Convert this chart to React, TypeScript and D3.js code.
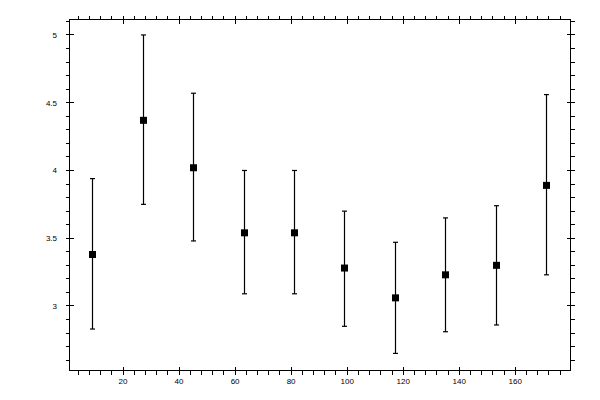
import { useEffect } from "react";
import * as d3 from "d3";

const width = 600;
const height = 400;

// 外框位置
const left = 69.5;
const right = 570.5;
const top = 19.5;
const bottom = 370.5;

// 資料
const xValues = [9, 27, 45, 63, 81, 99, 117, 135, 153, 171];
const means = [3.38, 4.37, 4.02, 3.54, 3.54, 3.28, 3.06, 3.23, 3.3, 3.89];
const upper = [3.94, 5.0, 4.57, 4.0, 4.0, 3.7, 3.47, 3.65, 3.74, 4.56];
const lower = [2.83, 3.75, 3.48, 3.09, 3.09, 2.85, 2.65, 2.81, 2.86, 3.23];

const xMajorTicks = [20, 40, 60, 80, 100, 120, 140, 160];
const yMajorTicks = [3, 3.5, 4, 4.5, 5];
const yTickLabels = ["3", "3.5", "4", "4.5", "5"];

const x = d3.scaleLinear().domain([0.9, 179.7]).range([left, right]);
const y = d3.scaleLinear().domain([2.524, 5.114]).range([bottom, top]);

// 次刻度
const xMinorTicks = d3.range(4, 180, 4).filter((v) => v % 20 !== 0);
const yMinorTicks = d3
  .range(26, 52, 1)
  .filter((v) => v % 5 !== 0)
  .map((v) => v / 10);

const major = 4;
const minor = 4;
const fontStyle = {
  fontFamily: "'Liberation Sans', Arial, sans-serif",
  fontSize: "8px",
};

export default function App() {
  useEffect(() => {
    document.body.style.margin = "0";
  }, []);

  return (
    <svg width={width} height={height} style={{ display: "block", background: "#fff" }}>
      <g stroke="#000" strokeWidth={1} shapeRendering="crispEdges">
        <rect x={left} y={top} width={right - left} height={bottom - top} fill="none" />

        {/* x 軸刻度（上下） */}
        {xMajorTicks.map((v) => (
          <g key={`xm${v}`}>
            <line x1={x(v)} x2={x(v)} y1={bottom - major} y2={bottom + major} />
            <line x1={x(v)} x2={x(v)} y1={top - major} y2={top + major} />
          </g>
        ))}
        {xMinorTicks.map((v) => (
          <g key={`xn${v}`}>
            <line x1={x(v)} x2={x(v)} y1={bottom} y2={bottom + minor} />
            <line x1={x(v)} x2={x(v)} y1={top - minor} y2={top} />
          </g>
        ))}

        {/* y 軸刻度（左右） */}
        {yMajorTicks.map((v) => (
          <g key={`ym${v}`}>
            <line y1={y(v)} y2={y(v)} x1={left - major} x2={left + major} />
            <line y1={y(v)} y2={y(v)} x1={right - major} x2={right + major} />
          </g>
        ))}
        {yMinorTicks.map((v) => (
          <g key={`yn${v}`}>
            <line y1={y(v)} y2={y(v)} x1={left - minor} x2={left} />
            <line y1={y(v)} y2={y(v)} x1={right} x2={right + minor} />
          </g>
        ))}
      </g>

      {/* 刻度文字 */}
      <g fill="#000" style={fontStyle}>
        {xMajorTicks.map((v) => (
          <text key={`xl${v}`} x={x(v)} y={383.5} textAnchor="middle">
            {v}
          </text>
        ))}
        {yMajorTicks.map((v, i) => (
          <text
            key={`yl${v}`}
            x={57}
            y={y(v)}
            dy="0.35em"
            textAnchor="end"
          >
            {yTickLabels[i]}
          </text>
        ))}
      </g>

      {/* 誤差線與資料點 */}
      <g stroke="#000" strokeWidth={1.2}>
        {xValues.map((v, i) => {
          const cx = Math.round(x(v)) + 0.5;
          return (
            <g key={`e${v}`}>
              <line x1={cx} x2={cx} y1={y(upper[i])} y2={y(lower[i])} />
              <line x1={cx - 2.5} x2={cx + 2.5} y1={y(upper[i])} y2={y(upper[i])} />
              <line x1={cx - 2.5} x2={cx + 2.5} y1={y(lower[i])} y2={y(lower[i])} />
            </g>
          );
        })}
      </g>
      <g fill="#000">
        {xValues.map((v, i) => (
          <rect
            key={`p${v}`}
            x={Math.round(x(v)) + 0.5 - 3.5}
            y={y(means[i]) - 3.5}
            width={7}
            height={7}
          />
        ))}
      </g>
    </svg>
  );
}
